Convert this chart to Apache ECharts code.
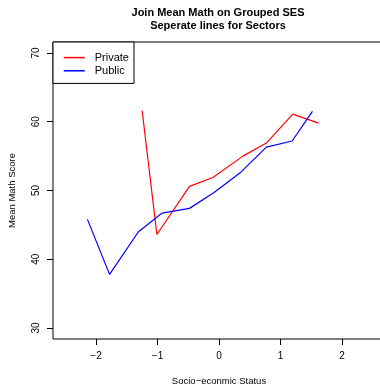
<!DOCTYPE html>
<html>
<head>
<meta charset="utf-8">
<script src="https://cdn.jsdelivr.net/npm/echarts@6/dist/echarts.min.js"></script>
<style>
  html, body { margin: 0; padding: 0; background: #fff; }
  #chart { width: 380px; height: 385px; }
</style>
</head>
<body>
<div id="chart"></div>
<script>
// Mean maths score per SES group, one line per school sector
const privateSes  = [-1.25, -1.01, -0.48, -0.10, 0.39, 0.77, 1.20, 1.62];
const privateMath = [61.6, 43.6, 50.6, 51.9, 55.0, 56.9, 61.1, 59.8];
const publicSes   = [-2.14, -1.78, -1.31, -0.93, -0.48, -0.08, 0.36, 0.77, 1.19, 1.52];
const publicMath  = [45.8, 37.8, 44.0, 46.7, 47.4, 49.7, 52.7, 56.3, 57.2, 61.5];

const xTicks = [-2, -1, 0, 1, 2];
const yTicks = [30, 40, 50, 60, 70];

const FONT = '"Liberation Sans", Arial, Helvetica, sans-serif';
const minus = v => String(v).replace('-', '\u2212');
const pairs = (xs, ys) => xs.map((x, i) => [x, ys[i]]);

const chart = echarts.init(document.getElementById('chart'), null, { renderer: 'canvas' });

chart.setOption({
  animation: false,
  backgroundColor: '#ffffff',
  textStyle: { fontFamily: FONT },
  title: {
    text: 'Join Mean Math on Grouped SES\nSeperate lines for Sectors',
    left: 218,
    top: 6,
    padding: 0,
    textAlign: 'center',
    textStyle: { fontFamily: FONT, fontSize: 11, fontWeight: 'bold', color: '#000', lineHeight: 13.3 }
  },
  legend: {
    orient: 'vertical',
    left: 53,
    top: 42,
    padding: [10, 5, 7, 10],
    itemWidth: 21,
    itemHeight: 14,
    itemGap: 2,
    borderColor: '#000',
    borderWidth: 1,
    backgroundColor: '#fff',
    itemStyle: { opacity: 0 },
    lineStyle: { width: 1.5 },
    textStyle: { fontFamily: FONT, fontSize: 11, color: '#000', padding: [0, 0, 0, 5] },
    data: ['Private', 'Public']
  },
  grid: {
    left: 53,
    top: 42,
    right: -5,
    bottom: 46,
    outerBoundsMode: 'none',
    containLabel: false,
    show: true,
    borderColor: '#000',
    borderWidth: 1,
    backgroundColor: 'transparent'
  },
  xAxis: {
    type: 'value',
    position: 'bottom',
    min: -2.7,
    max: 2.7,
    name: 'Socio\u2212econmic Status',
    nameLocation: 'middle',
    nameGap: 37,
    nameTextStyle: { fontFamily: FONT, fontSize: 9.5, color: '#000' },
    axisLine: { show: false, onZero: false },
    splitLine: { show: false },
    axisTick: { show: true, length: 6, customValues: xTicks, lineStyle: { color: '#000', width: 1 } },
    axisLabel: {
      customValues: xTicks,
      margin: 12,
      fontFamily: FONT,
      fontSize: 10,
      color: '#000',
      formatter: minus
    }
  },
  yAxis: {
    type: 'value',
    position: 'left',
    min: 28.4,
    max: 71.6,
    name: 'Mean Math Score',
    nameLocation: 'middle',
    nameGap: 36,
    nameTextStyle: { fontFamily: FONT, fontSize: 9.5, color: '#000' },
    axisLine: { show: false, onZero: false },
    splitLine: { show: false },
    axisTick: { show: true, length: 6, customValues: yTicks, lineStyle: { color: '#000', width: 1 } },
    axisLabel: {
      customValues: yTicks,
      rotate: 90,
      margin: 12,
      fontFamily: FONT,
      fontSize: 10,
      color: '#000',
      formatter: minus
    }
  },
  series: [
    {
      name: 'Private',
      type: 'line',
      data: pairs(privateSes, privateMath),
      symbol: 'none',
      color: '#ff0000',
      lineStyle: { color: '#ff0000', width: 1.2 }
    },
    {
      name: 'Public',
      type: 'line',
      data: pairs(publicSes, publicMath),
      symbol: 'none',
      color: '#0000ff',
      lineStyle: { color: '#0000ff', width: 1.2 }
    }
  ]
});
</script>
</body>
</html>
